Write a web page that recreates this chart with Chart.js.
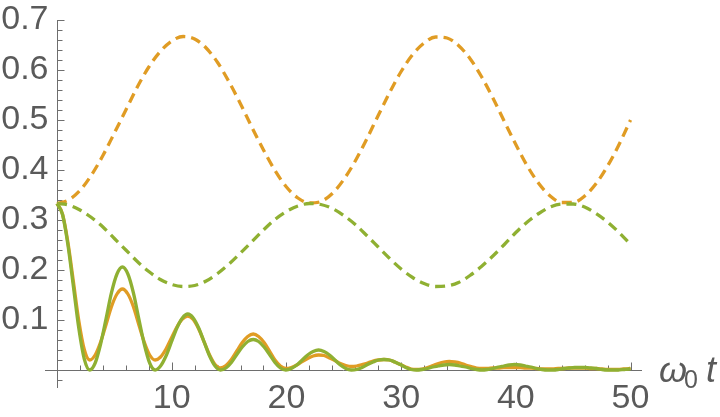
<!DOCTYPE html>
<html><head><meta charset="utf-8">
<script src="https://cdn.jsdelivr.net/npm/chart.js@4/dist/chart.umd.min.js"></script>
<style>html,body{margin:0;padding:0;background:#fff}#wrap{width:720px;height:417px}</style>
</head><body><div id="wrap"><canvas id="c" width="720" height="417"></canvas></div>
<script>
// time samples for the solid (oscillating) curves
const tSolid = [0,0.475,0.95,1.425,1.9,2.375,2.85,3.325,3.8,4.275,4.75,5.225,
5.7,6.175,6.65,7.125,7.6,8.075,8.55,9.025,9.5,9.975,10.45,10.925,
11.4,11.875,12.35,12.825,13.3,13.775,14.25,14.725,15.2,15.675,16.15,16.625,
17.1,17.575,18.05,18.525,19,19.475,19.95,20.425,20.9,21.375,21.85,22.325,
22.8,23.275,23.75,24.225,24.7,25.175,25.65,26.125,26.6,27.075,27.55,28.025,
28.5,28.975,29.45,29.925,30.4,30.875,31.35,31.825,32.3,32.775,33.25,33.725,
34.2,34.675,35.15,35.625,36.1,36.575,37.05,37.525,38,38.475,38.95,39.425,
39.9,40.375,40.85,41.325,41.8,42.275,42.75,43.225,43.7,44.175,44.65,45.125,
45.6,46.075,46.55,47.025,47.5,47.975,48.45,48.925,49.4,49.875,50];
const orangeSolid = [0.333,0.312,0.255,0.177,0.098,0.041,0.020,0.030,0.056,0.091,0.127,0.152,
0.162,0.152,0.127,0.091,0.056,0.030,0.020,0.026,0.042,0.064,0.086,0.102,
0.108,0.101,0.082,0.056,0.030,0.011,0.004,0.009,0.021,0.038,0.055,0.067,
0.072,0.067,0.055,0.038,0.020,0.008,0.003,0.005,0.010,0.017,0.023,0.028,
0.030,0.029,0.024,0.019,0.013,0.009,0.007,0.008,0.011,0.014,0.018,0.020,
0.021,0.020,0.016,0.011,0.006,0.002,0.001,0.002,0.005,0.009,0.013,0.016,
0.017,0.016,0.014,0.010,0.007,0.004,0.003,0.003,0.004,0.004,0.005,0.005,
0.005,0.005,0.004,0.004,0.003,0.002,0.002,0.002,0.003,0.003,0.004,0.004,
0.004,0.004,0.003,0.003,0.002,0.001,0.001,0.001,0.002,0.003,0.004];
const greenSolid = [0.333,0.311,0.250,0.167,0.083,0.022,0,0.014,0.052,0.103,0.155,0.192,
0.206,0.192,0.155,0.103,0.052,0.014,0,0.008,0.028,0.056,0.084,0.104,
0.112,0.104,0.084,0.056,0.028,0.008,0,0.004,0.015,0.031,0.046,0.057,
0.061,0.057,0.046,0.031,0.015,0.004,0,0.003,0.010,0.020,0.030,0.037,
0.040,0.037,0.030,0.020,0.010,0.003,0,0.001,0.005,0.011,0.016,0.020,
0.021,0.020,0.016,0.011,0.005,0.001,0,0.001,0.003,0.006,0.008,0.010,
0.011,0.010,0.008,0.006,0.003,0.001,0,0.001,0.003,0.006,0.008,0.010,
0.011,0.010,0.008,0.006,0.003,0.001,0,0,0.001,0.003,0.004,0.005,
0.005,0.005,0.004,0.003,0.001,0,0,0,0.001,0.002,0.002];
// time samples for the dashed (slow) curves
const tDashed = [0,1,2,3,4,5,6,7,8,9,10,11,12,13,14,15,16,17,18,19,20,21,22,23,24,25,
26,27,28,29,30,31,32,33,34,35,36,37,38,39,40,41,42,43,44,45,46,47,48,49,50];
const orangeDashed = [0.333,0.340,0.359,0.390,0.429,0.474,0.520,0.566,0.606,0.637,0.658,0.667,
0.662,0.644,0.615,0.576,0.532,0.485,0.440,0.399,0.366,0.344,0.334,0.337,0.353,0.381,
0.418,0.462,0.509,0.555,0.597,0.631,0.654,0.666,0.664,0.649,0.623,0.587,0.544,0.497,
0.451,0.408,0.373,0.348,0.335,0.335,0.348,0.373,0.408,0.451,0.500];
const greenDashed = [0.333,0.330,0.320,0.305,0.286,0.263,0.240,0.217,0.197,0.181,0.171,0.167,
0.169,0.178,0.193,0.212,0.234,0.257,0.280,0.301,0.317,0.328,0.333,0.331,0.323,0.309,
0.291,0.269,0.246,0.223,0.202,0.185,0.173,0.167,0.168,0.175,0.189,0.207,0.228,0.251,
0.275,0.296,0.313,0.326,0.332,0.332,0.326,0.313,0.296,0.275,0.251];
// tick labels
const xTickValues = [10,20,30,40,50];
const xTickLabels = ["10","20","30","40","50"];
const yTickValues = [0.1,0.2,0.3,0.4,0.5,0.6,0.7];
const yTickLabels = ["0.1","0.2","0.3","0.4","0.5","0.6","0.7"];

const ORANGE = '#E09C24', GREEN = '#8FB032';
const AXIS = '#6e6e6e', TEXT = '#5a5a5a';

function pts(xs, ys){ return xs.map((x,i)=>({x:x, y:ys[i]})); }

const axesPlugin = {
  id:'mmaAxes',
  beforeDatasetsDraw(chart){
    const ctx = chart.ctx, xs = chart.scales.x, ys = chart.scales.y;
    const x0 = Math.round(xs.getPixelForValue(0)) + 0.5;
    const y0 = Math.round(ys.getPixelForValue(0)) + 0.5;
    ctx.save();
    ctx.strokeStyle = AXIS; ctx.lineWidth = 1;
    ctx.beginPath();
    ctx.moveTo(xs.left, y0); ctx.lineTo(xs.right, y0);
    ctx.moveTo(x0, ys.top); ctx.lineTo(x0, ys.bottom);
    for (let v = 2; v <= 50; v += 2) {
      const px = Math.round(xs.getPixelForValue(v)) + 0.5;
      const len = (v % 10 === 0) ? 8 : 5;
      ctx.moveTo(px, y0); ctx.lineTo(px, y0 - len);
    }
    for (let k = -1; k <= 35; k++) {
      if (k === 0) continue;
      const py = Math.round(ys.getPixelForValue(k * 0.02)) + 0.5;
      const len = (k % 5 === 0) ? 7 : 5;
      ctx.moveTo(x0, py); ctx.lineTo(x0 + len, py);
    }
    ctx.stroke();
    ctx.fillStyle = TEXT;
    ctx.font = '34px "Liberation Sans", Arial, sans-serif';
    ctx.textAlign = 'center'; ctx.textBaseline = 'alphabetic';
    xTickValues.forEach((v,i)=>{
      ctx.fillText(xTickLabels[i], xs.getPixelForValue(v), y0 + 37);
    });
    ctx.textAlign = 'right'; ctx.textBaseline = 'middle';
    yTickValues.forEach((v,i)=>{
      ctx.fillText(yTickLabels[i], x0 - 9, ys.getPixelForValue(v));
    });
    ctx.textAlign = 'left'; ctx.textBaseline = 'alphabetic';
    ctx.font = 'italic 36px "Liberation Sans", Arial, sans-serif';
    ctx.fillText('\u03C9', 659, 382);
    ctx.font = '25px "Liberation Sans", Arial, sans-serif';
    ctx.fillText('0', 684, 388);
    ctx.font = 'italic 36px "Liberation Sans", Arial, sans-serif';
    ctx.fillText('t', 706, 382);
    ctx.restore();
  }
};

new Chart(document.getElementById('c'), {
  type:'line',
  data:{ datasets:[
    {data:pts(tSolid, greenSolid), borderColor:GREEN, borderWidth:3.3, order:0},
    {data:pts(tSolid, orangeSolid), borderColor:ORANGE, borderWidth:3.3, order:1},
    {data:pts(tDashed, greenDashed), borderColor:GREEN, borderWidth:3.3, borderDash:[10,6], order:2},
    {data:pts(tDashed, orangeDashed), borderColor:ORANGE, borderWidth:3.3, borderDash:[10,6], order:3}
  ]},
  options:{
    responsive:false, animation:false, devicePixelRatio:1,
    layout:{padding:{left:45, right:78, top:20, bottom:29}},
    elements:{point:{radius:0}, line:{cubicInterpolationMode:'monotone', fill:false}},
    scales:{
      x:{type:'linear', min:-1.05, max:51, display:false},
      y:{type:'linear', min:-0.036, max:0.7, display:false}
    },
    plugins:{legend:{display:false}, tooltip:{enabled:false}}
  },
  plugins:[axesPlugin]
});
</script></body></html>
